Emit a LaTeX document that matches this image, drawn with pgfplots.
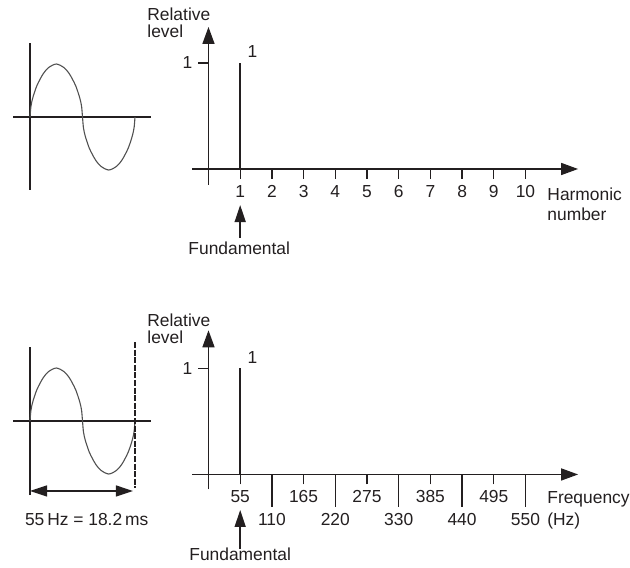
\documentclass[border=0pt]{standalone}
\usepackage{pgfplots}
\usepackage{pgfplotstable}
\pgfplotsset{compat=1.18}
\usepackage{fontspec}
\setmainfont{Liberation Sans}
\usetikzlibrary{arrows.meta}

\definecolor{ink}{HTML}{231F20}
\definecolor{wave}{HTML}{505050}

% one period of the drawn waveform (rounded lobes)
\pgfplotstableread{
t      v
0      0
0.008  0.19
0.016  0.28
0.032  0.40
0.063  0.58
0.095  0.71
0.127  0.82
0.175  0.93
0.25   1
0.325  0.93
0.373  0.82
0.405  0.71
0.437  0.58
0.468  0.40
0.484  0.28
0.492  0.19
0.5    0
0.508  -0.19
0.516  -0.28
0.532  -0.40
0.563  -0.58
0.595  -0.71
0.627  -0.82
0.675  -0.93
0.75   -1
0.825  -0.93
0.873  -0.82
0.905  -0.71
0.937  -0.58
0.968  -0.40
0.984  -0.28
0.992  -0.19
1      0
}\sinewave

\pgfplotsset{
  /pgf/number format/assume math mode=true,
  spec/.style={
    axis lines=middle, clip=false, anchor=south west,
    axis line style={line width=0.75pt, ink, -{Triangle[length=8.5pt,width=6pt]}},
    tick align=outside, major tick length=5pt,
    tick style={line width=0.65pt, ink},
    ticklabel style={text=ink},
    every axis y label/.style={rotate=0, anchor=north west, inner sep=0pt, align=left,
      text=ink, font=\fontsize{8.7}{8.5}\selectfont},
    every axis x label/.style={anchor=north west, inner sep=0pt, align=left,
      text=ink},
  },
  sine/.style={
    axis lines=middle, clip=false, anchor=south west,
    xtick=\empty, ytick=\empty,
    axis line style={line width=0.65pt, ink, -},
    x=52.5pt, y=26.5pt, xmin=-0.162, xmax=1.152,
  },
}

\begin{document}
\fontsize{8.7}{10}\selectfont
\begin{tikzpicture}
\path[use as bounding box] (0,0) rectangle (315pt,283.5pt);

% top waveform
\begin{axis}[sine, at={(6.5pt,188.5pt)}, ymin=-1.377, ymax=1.396]
\addplot[wave, line width=0.55pt, smooth, mark=none] table[x=t, y=v] {\sinewave};
\end{axis}

% top spectrum (harmonic number)
\begin{axis}[spec, at={(96pt,191.05pt)},
  x=15.85pt, y=53pt, xmin=-0.52, xmax=11.66, ymin=-0.15, ymax=1.34,
  xtick={1,2,...,10}, ytick={1},
  xlabel={Harmonic\\number},
  xlabel style={at={(axis cs:10.68,-0.17)}, font=\fontsize{8.7}{10}\selectfont},
  ylabel={Relative\\level},
  ylabel style={at={(axis cs:-1.94,1.52)}},
]
\addplot[ycomb, line width=0.75pt, ink, mark=none] coordinates {(1,1)};
\node[anchor=south west, inner sep=0pt, xshift=3.5pt, yshift=2.5pt, text=ink] at (axis cs:1,1) {1};
\draw[ink, line width=0.75pt, -{Triangle[length=8.5pt,width=5.5pt]}] (axis cs:1,-0.65) -- (axis cs:1,-0.34);
\node[anchor=base, inner sep=0pt, text=ink] at (axis cs:0.97,-0.811) {Fundamental};
\end{axis}

% bottom waveform
\begin{axis}[sine, at={(6.5pt,36pt)}, ymin=-1.396, ymax=1.396]
\addplot[wave, line width=0.55pt, smooth, mark=none] table[x=t, y=v] {\sinewave};
\addplot[ink, line width=0.6pt, dash pattern=on 3pt off 0.8pt, mark=none] coordinates {(1,1.49) (1,-1.26)};
\draw[ink, line width=0.65pt, {Triangle[length=8.5pt,width=5.5pt]}-{Triangle[length=8.5pt,width=5.5pt]}]
  (axis cs:0,-1.32) -- (axis cs:0.98,-1.32);
\node[anchor=base, inner sep=0pt, text=ink] at (axis cs:0.54,-1.98) {55\,Hz = 18.2\,ms};
\end{axis}

% bottom spectrum (frequency)
\begin{axis}[spec, at={(96pt,38.85pt)},
  x=0.28818pt, y=53pt, xmin=-28.6, xmax=641.3, ymin=-0.14, ymax=1.36,
  xtick={55,165,275,385,495}, ytick={1},
  extra x ticks={110,220,330,440,550},
  extra x tick style={major tick length=16.25pt},
  xlabel={Frequency\\(Hz)},
  xlabel style={at={(axis cs:587.3,-0.156)}, font=\fontsize{8.7}{11}\selectfont},
  ylabel={Relative\\level},
  ylabel style={at={(axis cs:-106.7,1.52)}},
]
\addplot[ycomb, line width=0.75pt, ink, mark=none] coordinates {(55,1)};
\node[anchor=south west, inner sep=0pt, xshift=3.5pt, yshift=2.5pt, text=ink] at (axis cs:55,1) {1};
\draw[ink, line width=0.75pt, -{Triangle[length=8.5pt,width=5.5pt]}] (axis cs:55,-0.70) -- (axis cs:55,-0.335);
\node[anchor=base, inner sep=0pt, text=ink] at (axis cs:55,-0.807) {Fundamental};
\end{axis}
\end{tikzpicture}
\end{document}
